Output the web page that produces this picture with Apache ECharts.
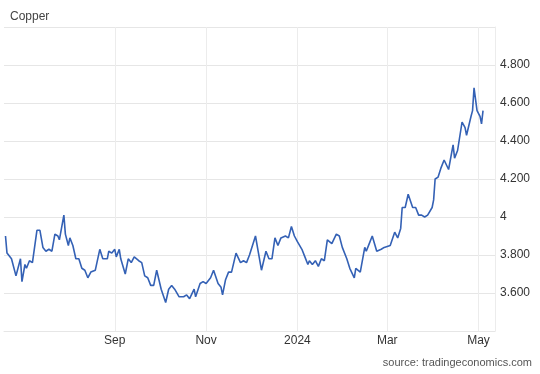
<!DOCTYPE html>
<html>
<head>
<meta charset="utf-8">
<script src="https://cdn.jsdelivr.net/npm/echarts@6/dist/echarts.min.js"></script>
<style>
html,body{margin:0;padding:0;background:#fff;}
#c{width:540px;height:374px;}
</style>
</head>
<body>
<div id="c"></div>
<script>
var dates = [
'2023-06-20','2023-06-21','2023-06-24','2023-06-27','2023-06-30','2023-07-01','2023-07-03','2023-07-04','2023-07-06','2023-07-08',
'2023-07-11','2023-07-13','2023-07-15','2023-07-17','2023-07-19','2023-07-21','2023-07-23','2023-07-25','2023-07-26','2023-07-29',
'2023-07-30','2023-08-01','2023-08-02','2023-08-04','2023-08-06','2023-08-08','2023-08-10','2023-08-12','2023-08-14','2023-08-16',
'2023-08-19','2023-08-22','2023-08-24','2023-08-27','2023-08-28','2023-08-30','2023-09-01','2023-09-02','2023-09-04','2023-09-05',
'2023-09-08','2023-09-10','2023-09-12','2023-09-14','2023-09-17','2023-09-19','2023-09-21','2023-09-23','2023-09-25','2023-09-27',
'2023-09-29','2023-10-02','2023-10-05','2023-10-07','2023-10-09','2023-10-11','2023-10-14','2023-10-17','2023-10-19','2023-10-21',
'2023-10-24','2023-10-25','2023-10-28','2023-10-30','2023-11-01','2023-11-04','2023-11-06','2023-11-09','2023-11-11','2023-11-12',
'2023-11-14','2023-11-16','2023-11-18','2023-11-21','2023-11-22','2023-11-24','2023-11-26','2023-11-28','2023-11-30','2023-12-01',
'2023-12-04','2023-12-06','2023-12-08','2023-12-11','2023-12-13','2023-12-15','2023-12-17','2023-12-19','2023-12-21','2023-12-24',
'2023-12-26','2023-12-28','2023-12-30','2024-01-01','2024-01-04','2024-01-06','2024-01-08','2024-01-09','2024-01-11','2024-01-13',
'2024-01-15','2024-01-17','2024-01-19','2024-01-21','2024-01-24','2024-01-27','2024-01-29','2024-01-31','2024-02-03','2024-02-05',
'2024-02-08','2024-02-09','2024-02-12','2024-02-15','2024-02-16','2024-02-18','2024-02-20','2024-02-23','2024-02-26','2024-02-28',
'2024-03-03','2024-03-06','2024-03-08','2024-03-10','2024-03-11','2024-03-13','2024-03-15','2024-03-16','2024-03-18','2024-03-20',
'2024-03-22','2024-03-24','2024-03-26','2024-03-28','2024-03-31','2024-04-01','2024-04-02','2024-04-04','2024-04-06','2024-04-08',
'2024-04-11','2024-04-12','2024-04-14','2024-04-15','2024-04-17','2024-04-20','2024-04-22','2024-04-23','2024-04-26','2024-04-27',
'2024-04-28','2024-04-30','2024-05-02','2024-05-03','2024-05-04'
];
var prices = [
3.90,3.81,3.78,3.69,3.78,3.66,3.75,3.73,3.77,3.76,
3.93,3.93,3.84,3.82,3.83,3.82,3.91,3.90,3.88,4.01,
3.91,3.85,3.89,3.85,3.78,3.78,3.73,3.72,3.68,3.71,
3.72,3.83,3.78,3.78,3.82,3.81,3.83,3.79,3.83,3.78,
3.70,3.78,3.76,3.79,3.77,3.76,3.69,3.68,3.64,3.64,
3.72,3.62,3.55,3.62,3.64,3.62,3.58,3.58,3.59,3.57,
3.62,3.58,3.65,3.66,3.65,3.68,3.72,3.65,3.63,3.59,
3.67,3.71,3.71,3.81,3.81,3.76,3.77,3.76,3.80,3.79,
3.90,3.81,3.72,3.82,3.78,3.78,3.89,3.85,3.89,3.90,
3.89,3.95,3.90,3.87,3.83,3.79,3.75,3.77,3.75,3.77,
3.74,3.78,3.77,3.88,3.86,3.91,3.90,3.84,3.78,3.73,
3.68,3.73,3.71,3.84,3.82,3.86,3.90,3.82,3.83,3.84,
3.85,3.92,3.89,3.94,4.05,4.05,4.12,4.12,4.05,4.05,
4.01,4.01,4.00,4.01,4.05,4.09,4.20,4.21,4.26,4.30,
4.25,4.25,4.38,4.31,4.35,4.50,4.47,4.43,4.53,4.56,
4.68,4.56,4.53,4.49,4.56
];
var xTickDates = ['2023-09-01','2023-11-01','2024-01-01','2024-03-01','2024-05-01'];
var monthNames = ['Jan','Feb','Mar','Apr','May','Jun','Jul','Aug','Sep','Oct','Nov','Dec'];
var yLabelValues = [3.6,3.8,4.0,4.2,4.4,4.6,4.8];

function ts(s){ var p=s.split('-'); return new Date(+p[0], +p[1]-1, +p[2]).getTime(); }
var tickTs = xTickDates.map(ts);
var seriesData = dates.map(function(d,i){ return [ts(d), prices[i]]; });

var chart = echarts.init(document.getElementById('c'), null, {renderer:'canvas'});
chart.setOption({
  animation:false,
  backgroundColor:'#fff',
  title:{
    text:'Copper', left:5, top:6,
    textStyle:{fontFamily:'Arial, Liberation Sans, sans-serif', fontSize:12, fontWeight:'normal', color:'#444'}
  },
  graphic:[{
    type:'text', right:8, top:357,
    style:{text:'source: tradingeconomics.com', fill:'#555', font:'11px Arial, "Liberation Sans", sans-serif'}
  }],
  grid:{left:4, right:45, top:27, bottom:43, containLabel:false},
  xAxis:{
    type:'value',
    min: ts('2023-06-19'),
    max: ts('2024-05-12'),
    axisLine:{show:true, lineStyle:{color:'#e6e6e6'}},
    axisTick:{show:false, customValues: tickTs},
    splitLine:{show:true, lineStyle:{color:'#ececec', width:1}},
    axisLabel:{
      customValues: tickTs,
      color:'#333', fontSize:12, fontFamily:'Arial, Liberation Sans, sans-serif', margin:4,
      showMinLabel:true, showMaxLabel:true, hideOverlap:false,
      formatter:function(v){ var d=new Date(v); return d.getMonth()===0 ? String(d.getFullYear()) : monthNames[d.getMonth()]; }
    }
  },
  yAxis:{
    type:'value', position:'right',
    min:3.4, max:5.0, interval:0.2,
    axisLine:{show:true, lineStyle:{color:'#ececec'}},
    axisTick:{show:false},
    splitLine:{show:true, lineStyle:{color:'#e6e6e6', width:1}},
    axisLabel:{
      color:'#333', fontSize:12, fontFamily:'Arial, Liberation Sans, sans-serif', margin:5,
      formatter:function(v){
        var r = Math.round(v*10)/10;
        if (yLabelValues.indexOf(r) < 0) return '';
        return r===4 ? '4' : r.toFixed(3);
      }
    }
  },
  series:[{
    type:'line', data: seriesData, showSymbol:false, symbol:'none',
    lineStyle:{color:'#3461b5', width:1.6},
    itemStyle:{color:'#3461b5'}
  }]
});
</script>
</body>
</html>
